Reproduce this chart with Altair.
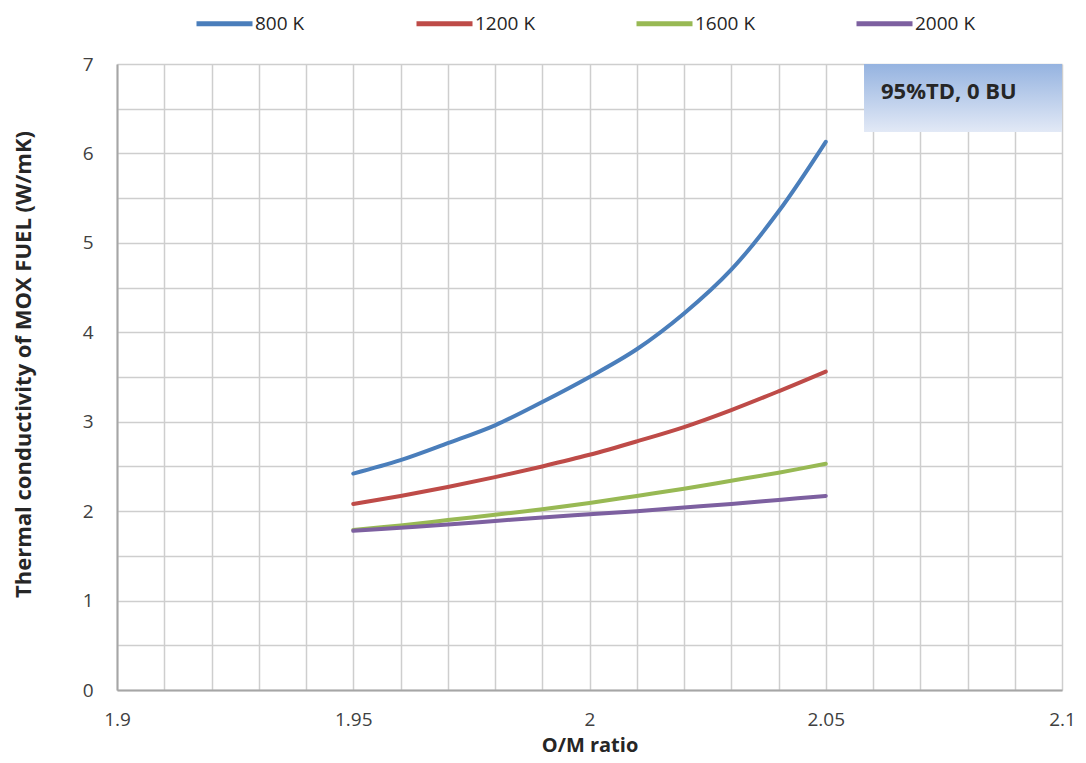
import altair as alt
import pandas as pd

# ---- data ----
om_ratio = [1.95, 1.96, 1.97, 1.98, 1.99, 2.00, 2.01, 2.02, 2.03, 2.04, 2.05]
k_800 = [2.42, 2.57, 2.76, 2.96, 3.22, 3.50, 3.81, 4.21, 4.70, 5.35, 6.13]
k_1200 = [2.08, 2.17, 2.27, 2.38, 2.50, 2.63, 2.78, 2.94, 3.13, 3.34, 3.56]
k_1600 = [1.79, 1.84, 1.90, 1.96, 2.02, 2.09, 2.17, 2.25, 2.34, 2.43, 2.53]
k_2000 = [1.78, 1.815, 1.85, 1.89, 1.93, 1.965, 2.00, 2.04, 2.08, 2.125, 2.17]
series_names = ["800 K", "1200 K", "1600 K", "2000 K"]
series_colors = ["#4A7EBB", "#BE4B48", "#98B954", "#7D60A0"]

x_ticks = [round(1.9 + 0.01 * i, 2) for i in range(21)]
y_ticks = [0.25 * i for i in range(29)]

rows = []
for name, vals in zip(series_names, [k_800, k_1200, k_1600, k_2000]):
    for x, v in zip(om_ratio, vals):
        rows.append({"om": x, "k": v, "series": name})
df = pd.DataFrame(rows)

annotation = pd.DataFrame({"x": [2.0581], "x2": [2.1], "y": [6.24], "y2": [7.0]})
note = pd.DataFrame({"x": [2.0617], "y": [6.69], "label": ["95%TD, 0 BU"]})

FONT = "Open Sans"
xscale = alt.Scale(domain=[1.9, 2.1], nice=False, zero=False)
yscale = alt.Scale(domain=[0, 7], nice=False)

lines = alt.Chart(df).mark_line(
    strokeWidth=4, interpolate="catmull-rom", strokeCap="round", strokeJoin="round"
).encode(
    x=alt.X("om:Q", scale=xscale, title="O/M ratio",
            axis=alt.Axis(values=x_ticks,
                          labelExpr="abs(datum.value*20 - round(datum.value*20)) < 0.001 ? format(datum.value, '~g') : ''",
                          grid=True, gridColor="#CECECE", gridWidth=1.5,
                          ticks=False, domainColor="#A6A6A6", domainWidth=2,
                          labelOverlap=False, labelFlush=False, labelBound=False,
                          labelPadding=20, labelFontSize=19, labelFont=FONT, labelColor="#404040",
                          titleFontSize=20, titleFont=FONT, titleFontWeight="bold", titleColor="#262626",
                          titleY=55, titleBaseline="middle")),
    y=alt.Y("k:Q", scale=yscale, title="Thermal conductivity of MOX FUEL (W/mK)",
            axis=alt.Axis(values=y_ticks,
                          labelExpr="datum.value % 1 == 0 ? format(datum.value, 'd') : ''",
                          grid=True, gridColor="#CECECE", gridWidth=1.5,
                          ticks=False, domainColor="#A6A6A6", domainWidth=2,
                          labelOverlap=False, labelPadding=24, labelFontSize=19, labelFont=FONT,
                          labelColor="#404040",
                          titleFontSize=22, titleFont=FONT, titleFontWeight="bold", titleColor="#262626",
                          titleX=-94, titleY=300, titleBaseline="middle")),
    color=alt.Color("series:N",
                    scale=alt.Scale(domain=series_names, range=series_colors),
                    sort=series_names,
                    legend=alt.Legend(title=None, orient="none", legendX=77, legendY=-71,
                                      direction="horizontal", columns=4, gridAlign="all",
                                      symbolType="stroke", symbolSize=3136, symbolStrokeWidth=5,
                                      labelFontSize=19, labelFont=FONT, labelColor="#262626",
                                      labelOffset=0, columnPadding=90)),
)

box = alt.Chart(annotation).mark_rect(
    color=alt.Gradient(gradient="linear", x1=0, x2=0, y1=0, y2=1,
                       stops=[alt.GradientStop(offset=0, color="#95B3E0"),
                              alt.GradientStop(offset=1, color="#E2E9F6")])
).encode(
    x=alt.X("x:Q", scale=xscale), x2="x2:Q",
    y=alt.Y("y:Q", scale=yscale), y2="y2:Q",
)

label = alt.Chart(note).mark_text(
    align="left", baseline="middle", fontSize=22, fontWeight="bold", font=FONT, color="#262626"
).encode(
    x=alt.X("x:Q", scale=xscale), y=alt.Y("y:Q", scale=yscale), text="label:N"
)

chart = alt.layer(lines, box, label).properties(
    width=945, height=626,
    autosize=alt.AutoSizeParams(type="none"),
    padding={"left": 109, "top": 56, "right": 16, "bottom": 65},
    background="white",
).configure_view(strokeWidth=0)

chart.save("out.html", embed_options={"renderer": "svg", "actions": False})
